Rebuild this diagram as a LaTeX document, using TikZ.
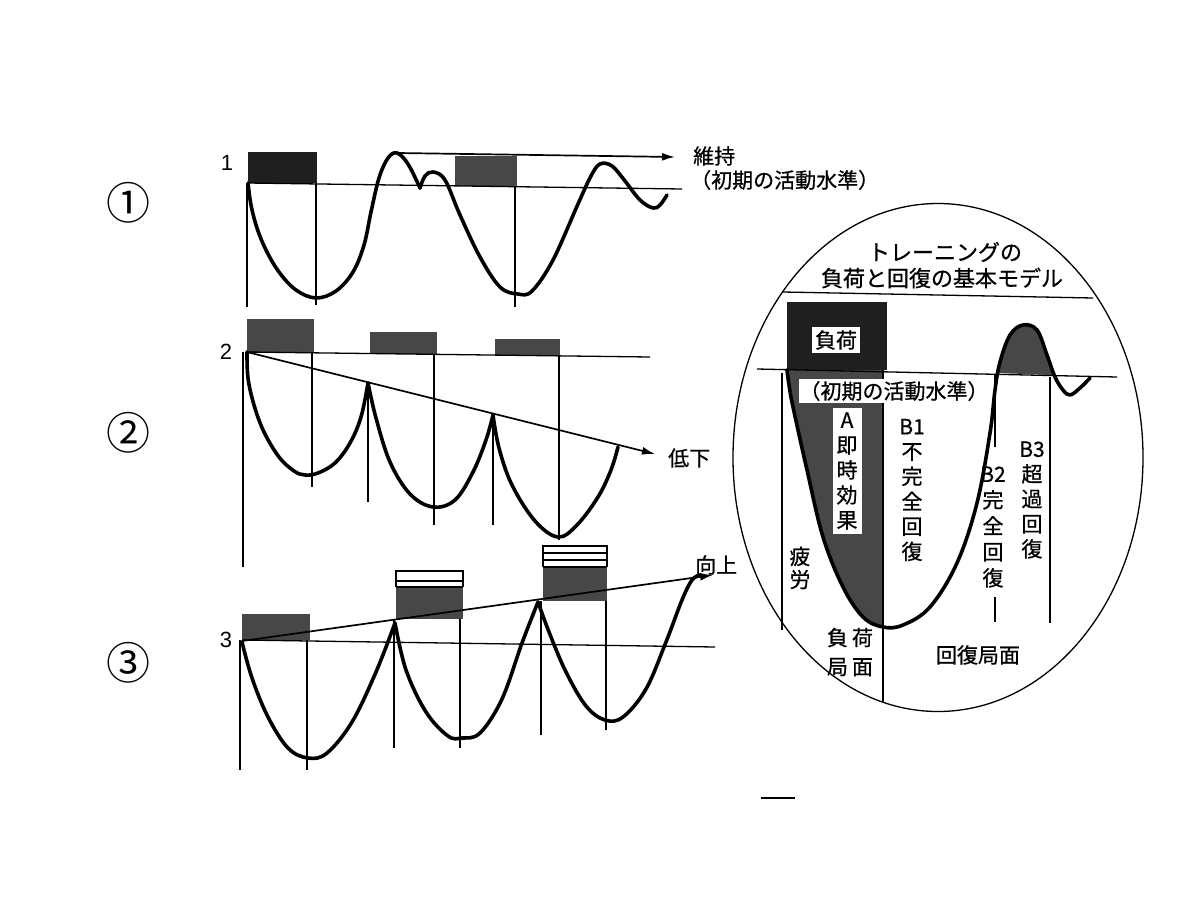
\documentclass[tikz,border=0pt]{standalone}
\usepackage{fontspec}
\setmainfont{Liberation Sans}
\newfontfamily\jp[FakeBold=0.7]{Noto Sans CJK JP}
\newfontfamily\jpc{Noto Sans CJK JP}
\usetikzlibrary{arrows.meta,shapes.geometric}
\begin{document}
\begin{tikzpicture}[x=1pt,y=-1pt,
  thinline/.style={line width=1.3pt},
  curve/.style={line width=3.6pt, line join=round, line cap=round},
  arr/.style={line width=1.7pt,-{Latex[length=13pt,width=8pt]}},
  loadfill/.style={fill=black!72},
  darkfill/.style={fill=black!88},
  jl/.style={font=\jp\fontsize{21}{25}\selectfont, inner sep=0pt},
  jt/.style={font=\jp\fontsize{22}{26}\selectfont, inner sep=0pt},
  numl/.style={font=\fontsize{22}{22}\selectfont, inner sep=0pt},
  circnum/.style={font=\jpc\fontsize{44}{44}\selectfont, inner sep=0pt},
  vstack/.style={jl, align=center},
]
\useasboundingbox (0,0) rectangle (1200,900);

% ---------- circled numbers ----------
\node[circnum] (c1) at (128,203) {①};
\node[circnum] (c2) at (128,433) {②};
\node[circnum] (c3) at (128,663) {③};

% ---------- panel 1 ----------
\node[numl] (n1) at (227,163) {1};
\fill[darkfill] (248,152) rectangle (317,183);
\fill[loadfill] (455,156) rectangle (517,186);
\coordinate (p1b0) at (248,183);
\coordinate (p1b1) at (682,189);
\draw[thinline] (p1b0) -- (p1b1);
\draw[thinline] (247,183) -- (247,307);
\draw[thinline] (316,183) -- (316,305);
\draw[thinline] (515,187) -- (515,307);
\coordinate (p1a0) at (398,153);
\coordinate (p1a1) at (675,157);
\draw[arr] (p1a0) -- (p1a1);
\draw[curve] plot[smooth, tension=0.6] coordinates {(248,183) (251,205) (257,228) (266,250) (279,272) (296,290) (316,298) (336,291) (353,272) (364,245) (371,212) (379,178) (388,158) (397,153) (408,164) (420,188)};
\draw[curve] plot[smooth, tension=0.6] coordinates {(420,188) (425,176) (433,172) (445,180) (460,215) (480,257) (500,287) (518,294) (532,291) (553,260) (578,204) (591,176) (600,164) (612,166) (625,181) (640,200) (653,208) (660,205) (667,195)};
\node[jl, anchor=west] (t1a) at (693,156) {維持};
\node[jl, anchor=west] (t1b) at (690,180) {（初期の活動水準）};

% ---------- panel 2 ----------
\node[numl] (n2) at (226,352) {2};
\fill[loadfill] (247,319) rectangle (314,353);
\fill[loadfill] (370,332) rectangle (437,354);
\fill[loadfill] (495,339) rectangle (560,356);
\coordinate (p2b0) at (247,352);
\coordinate (p2b1) at (650,357);
\draw[thinline] (p2b0) -- (p2b1);
\draw[thinline] (243,352) -- (243,567);
\draw[thinline] (312,353) -- (312,487);
\draw[thinline] (368,383) -- (368,502);
\draw[thinline] (434,355) -- (434,525);
\draw[thinline] (493,415) -- (493,525);
\draw[thinline] (559,356) -- (559,540);
\coordinate (p2a1) at (655,454);
\draw[arr] (p2b0) -- (p2a1);
\draw[curve] plot[smooth, tension=0.6] coordinates {(247,352) (248,378) (254,405) (264,432) (279,457) (294,471) (305,475) (318,473) (335,463) (350,443) (361,417) (368,383)};
\draw[curve] plot[smooth, tension=0.6] coordinates {(368,383) (376,418) (390,462) (410,494) (433,507) (455,500) (473,472) (486,440) (493,415)};
\draw[curve] plot[smooth, tension=0.6] coordinates {(493,415) (499,448) (512,485) (535,521) (558,537) (577,525) (598,497) (611,470) (618,447)};
\node[jl, anchor=west] (t2) at (668,458) {低下};

% ---------- panel 3 ----------
\node[numl] (n3) at (226,640) {3};
\fill[loadfill] (242,614) rectangle (310,640);
\fill[loadfill] (396,587) rectangle (463,619);
\draw[thinline] (396,587) -- (396,571) -- (463,571) -- (463,587);
\draw[thinline] (396,581) -- (463,581);
\draw[thinline] (396,587) -- (463,587);
\fill[loadfill] (543,567) rectangle (607,601);
\draw[thinline] (543,567) -- (543,546) -- (607,546) -- (607,567);
\draw[thinline] (543,553) -- (607,553);
\draw[thinline] (543,560) -- (607,560);
\draw[thinline] (543,567) -- (607,567);
\coordinate (p3b0) at (242,640);
\coordinate (p3b1) at (715,647);
\draw[thinline] (p3b0) -- (p3b1);
\draw[thinline] (240,640) -- (240,770);
\draw[thinline] (307,640) -- (307,770);
\draw[thinline] (394,620) -- (394,748);
\draw[thinline] (460,619) -- (460,748);
\draw[thinline] (541,601) -- (541,735);
\draw[thinline] (606,601) -- (606,730);
\coordinate (p3a0) at (242,641);
\coordinate (p3a1) at (713,575);
\draw[arr] (p3a0) -- (p3a1);
\draw[curve] plot[smooth, tension=0.6] coordinates {(242,642) (252,678) (268,717) (288,748) (308,758) (327,753) (352,722) (376,672) (395,623)};
\draw[curve] plot[smooth, tension=0.6] coordinates {(395,623) (406,670) (426,712) (448,736) (462,738) (480,733) (502,699) (522,643) (538,602)};
\draw[curve] plot[smooth, tension=0.6] coordinates {(538,602) (549,632) (566,672) (586,706) (605,720) (623,717) (646,689) (666,642) (682,600) (692,580) (700,575)};
\node[jl, anchor=west] (t3) at (695,565) {向上};

% ---------- model ellipse ----------
\node[draw, thinline, ellipse, minimum width=410pt, minimum height=508pt, inner sep=0pt] (model) at (938,457.5) {};
\coordinate (dv0) at (783,292);
\coordinate (dv1) at (1093,298);
\draw[thinline] (dv0) -- (dv1);
\node[jt] (title1) at (945,252) {トレーニングの};
\node[jt] (title2) at (942,278) {負荷と回復の基本モデル};

% fills
\fill[black!72] plot[smooth, tension=0.6] coordinates {(787,370) (789,385) (793,407) (807,470) (823,537) (843,587) (863,617) (883,627)} -- (883,370) -- cycle;
\fill[black!72] plot[smooth, tension=0.6] coordinates {(997,373) (1000,362) (1010,335) (1023,325) (1037,330) (1047,355) (1052,375)} -- cycle;
\fill[darkfill] (787,302) rectangle (887,370);
\coordinate (mb0) at (757,369);
\coordinate (mb1) at (1117,377);
\draw[thinline] (mb0) -- (mb1);
\draw[thinline] (782,373) -- (782,630);
\draw[thinline] (883,370) -- (883,702);
\draw[thinline] (995,375) -- (995,447);
\draw[thinline] (995,597) -- (995,622);
\draw[thinline] (1050,377) -- (1050,623);

\node[jl, fill=white, inner sep=3pt] (fuka) at (836,340) {負荷};
\node[jl, fill=white, inner xsep=1pt, inner ysep=2pt] (lvl) at (894,391) {（初期の活動水準）};
\node[vstack, fill=white, inner xsep=4pt, inner ysep=4pt] (A) at (847,471) {A\\即\\時\\効\\果};

\draw[curve] plot[smooth, tension=0.6] coordinates {(787,370) (789,385) (793,407) (807,470) (823,537) (843,587) (863,617) (883,627) (903,625) (930,607) (957,563) (977,503) (990,433) (995,390) (1000,362) (1010,335) (1023,325) (1037,330) (1047,355) (1055,377) (1063,390) (1070,395) (1080,388) (1090,378)};

\node[vstack] (B1) at (912,490) {B1\\不\\完\\全\\回\\復};
\node[vstack, font=\jp\fontsize{21}{26}\selectfont] (B2) at (993,527) {B2\\完\\全\\回\\復};
\node[vstack] (B3) at (1032,500) {B3\\超\\過\\回\\復};
\node[vstack, font=\jp\fontsize{21}{23}\selectfont] (hirou) at (800,568) {疲\\労};
\node[jl, align=center, font=\jp\fontsize{21}{29}\selectfont] (fukakyoku) at (850,652) {負\hspace{4pt}荷\\局\hspace{4pt}面};
\node[jl] (kaifuku) at (978,655) {回復局面};

% small mark at bottom
\coordinate (m0) at (761,798);
\coordinate (m1) at (795,798);
\draw[line width=2pt] (m0) -- (m1);
\end{tikzpicture}
\end{document}
